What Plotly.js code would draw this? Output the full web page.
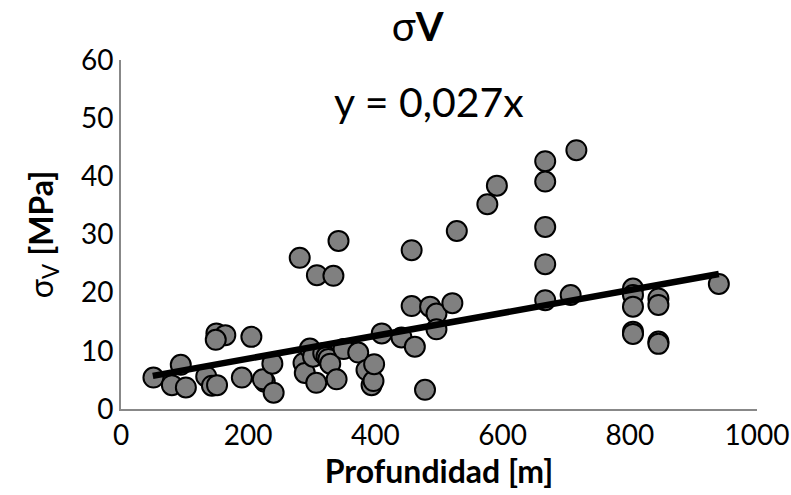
<!DOCTYPE html>
<html>
<head>
<meta charset="utf-8">
<script src="https://cdn.plot.ly/plotly-3.0.1.min.js"></script>
<style>html,body{margin:0;padding:0;background:#fff}#chart{width:791px;height:495px}</style>
</head>
<body>
<div id="chart"></div>
<script>
const depth = [51, 80, 102, 94, 134, 143, 151, 150, 164, 149, 205, 190, 226, 223, 238, 240,
  281, 308, 334, 342, 287, 289, 297, 302, 307, 318, 323, 326, 329, 339, 350, 373, 386, 394,
  397, 398, 410, 441, 457, 457, 462, 478, 486, 496, 496, 521, 528, 576, 591,
  667, 667, 667, 667, 667, 707, 716, 805, 805, 805, 805, 805, 845, 845, 845, 845, 940];
const sigmaV = [5.4, 4.1, 3.7, 7.6, 5.6, 4.0, 4.1, 13.0, 12.7, 11.9, 12.4, 5.4, 4.7, 5.1, 7.8, 2.8,
  26.0, 23.0, 22.9, 28.9, 7.9, 6.2, 10.4, 9.0, 4.5, 9.6, 9.0, 8.6, 7.8, 5.1, 10.3, 9.7, 6.7, 4.1,
  4.8, 7.7, 13.0, 12.3, 27.3, 17.7, 10.7, 3.3, 17.6, 16.4, 13.7, 18.2, 30.6, 35.2, 38.4,
  42.6, 39.1, 31.3, 24.9, 18.7, 19.6, 44.5, 20.7, 19.6, 17.6, 13.3, 12.9, 19.0, 17.9, 11.6, 11.2, 21.5];
const trendX = [50, 940];
const trendY = [5.7, 23.2];
const xTicks = [0, 200, 400, 600, 800, 1000];
const yTicks = [0, 10, 20, 30, 40, 50, 60];

const FONT = 'Lato, "Open Sans", sans-serif';

const traces = [
  {
    x: depth, y: sigmaV, type: 'scatter', mode: 'markers',
    marker: {size: 20, color: '#808080', line: {color: '#000', width: 2}},
    hoverinfo: 'x+y', showlegend: false
  },
  {
    x: trendX, y: trendY, type: 'scatter', mode: 'lines',
    line: {color: '#000', width: 6.5}, showlegend: false
  }
];

const layout = {
  width: 791, height: 495,
  margin: {l: 121, r: 34, t: 60, b: 86},
  paper_bgcolor: '#fff', plot_bgcolor: '#fff',
  font: {family: FONT, color: '#000'},
  title: {text: 'σ<b>V</b>', x: 0.528, xanchor: 'center', y: 0.945, yanchor: 'middle',
          font: {family: FONT, size: 40, color: '#000'}},
  xaxis: {
    range: [0, 1000], tickvals: xTicks, ticktext: xTicks.map(String),
    showgrid: false, zeroline: false, showline: true, linecolor: '#888', linewidth: 2,
    ticks: '', tickfont: {family: FONT, size: 28, color: '#000'},
    title: {text: '<b>Profundidad [m]</b>', standoff: 5, font: {family: FONT, size: 32, color: '#000'}}
  },
  yaxis: {
    range: [0, 60], tickvals: yTicks, ticktext: yTicks.map(String),
    showgrid: false, zeroline: false, showline: true, linecolor: '#888', linewidth: 2,
    ticks: '', tickfont: {family: FONT, size: 28, color: '#000'},
    title: {text: 'σ<sub>V</sub> <b>[MPa]</b>', standoff: 18, font: {family: FONT, size: 32, color: '#000'}}
  },
  annotations: [{
    text: 'y = 0,027x', xref: 'paper', yref: 'paper', x: 0.485, y: 0.88,
    xanchor: 'center', yanchor: 'middle', showarrow: false,
    font: {family: FONT, size: 41, color: '#000'}
  }]
};

Plotly.newPlot('chart', traces, layout, {staticPlot: true, displayModeBar: false});
</script>
</body>
</html>
